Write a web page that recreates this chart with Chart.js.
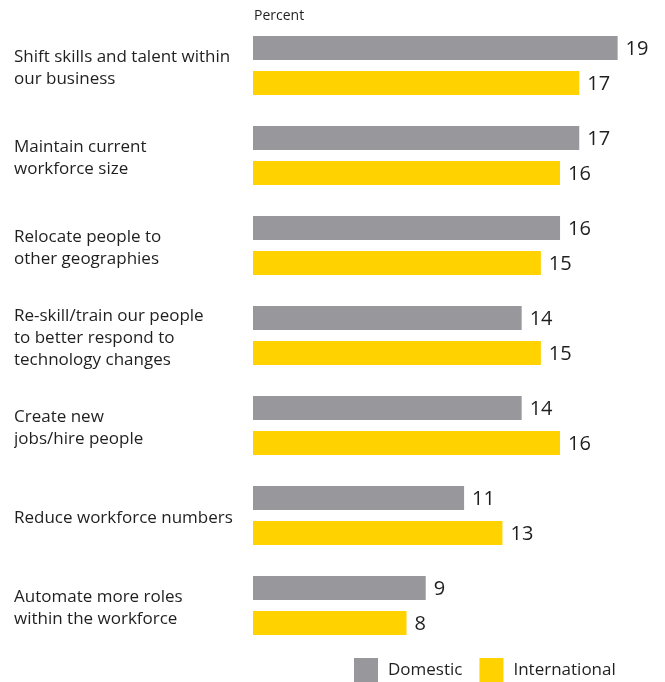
<!DOCTYPE html>
<html>
<head>
<meta charset="utf-8">
<script src="https://cdn.jsdelivr.net/npm/chart.js@4"></script>
<style>
  html, body { margin: 0; padding: 0; background: #fff; }
  #wrap { position: relative; width: 665px; height: 682px; }
</style>
</head>
<body>
<div id="wrap"><canvas id="chart"></canvas></div>
<script>
const categories = [
  ['Shift skills and talent within', 'our business'],
  ['Maintain current', 'workforce size'],
  ['Relocate people to', 'other geographies'],
  ['Re-skill/train our people', 'to better respond to', 'technology changes'],
  ['Create new', 'jobs/hire people'],
  'Reduce workforce numbers',
  ['Automate more roles', 'within the workforce']
];
const domestic = [19, 17, 16, 14, 14, 11, 9];
const international = [17, 16, 15, 15, 16, 13, 8];
const seriesNames = ['Domestic', 'International'];

const FONT = '"Open Sans", "Liberation Sans", sans-serif';
const TEXT = '#1f1f1f';
const GRAY = '#97979c';
const YELLOW = '#ffd200';

// value labels at bar ends, "Percent" caption, legend at bottom right
const extras = {
  id: 'extras',
  afterDatasetsDraw(chart) {
    const ctx = chart.ctx;
    ctx.save();
    ctx.fillStyle = TEXT;
    ctx.font = '20px ' + FONT;
    ctx.textAlign = 'left';
    ctx.textBaseline = 'middle';
    chart.data.datasets.forEach((ds, i) => {
      chart.getDatasetMeta(i).data.forEach((bar, j) => {
        ctx.fillText(ds.data[j], bar.x + 8, bar.y + 1);
      });
    });

    ctx.font = '14px ' + FONT;
    ctx.fillText('Percent', chart.chartArea.left + 1, 16);

    ctx.font = '17px ' + FONT;
    let x = 354;
    const y = 658;
    chart.data.datasets.forEach(ds => {
      ctx.fillStyle = ds.backgroundColor;
      ctx.fillRect(x, y, 24, 24);
      ctx.fillStyle = TEXT;
      ctx.fillText(ds.label, x + 34, y + 12);
      x += 34 + ctx.measureText(ds.label).width + 17;
    });
    ctx.restore();
  }
};

new Chart(document.getElementById('chart'), {
  type: 'bar',
  data: {
    labels: categories,
    datasets: [
      { label: seriesNames[0], data: domestic, backgroundColor: GRAY },
      { label: seriesNames[1], data: international, backgroundColor: YELLOW }
    ]
  },
  options: {
    indexAxis: 'y',
    responsive: true,
    maintainAspectRatio: false,
    animation: false,
    categoryPercentage: 0.778,
    barPercentage: 0.686,
    layout: { padding: { left: 14, right: 9, top: 20.5, bottom: 31.5 } },
    plugins: { legend: { display: false }, tooltip: { enabled: false } },
    scales: {
      x: { display: false, min: 0, max: 21 },
      y: {
        grid: { display: false, drawTicks: false },
        border: { display: false },
        ticks: {
          crossAlign: 'far',
          labelOffset: 2.5,
          color: TEXT,
          font: { family: FONT, size: 17, lineHeight: 1.3 }
        },
        afterFit(scale) {
          scale.width = 239;
          scale.paddingTop = 0;
          scale.paddingBottom = 0;
        }
      }
    }
  },
  plugins: [extras]
});
</script>
</body>
</html>
